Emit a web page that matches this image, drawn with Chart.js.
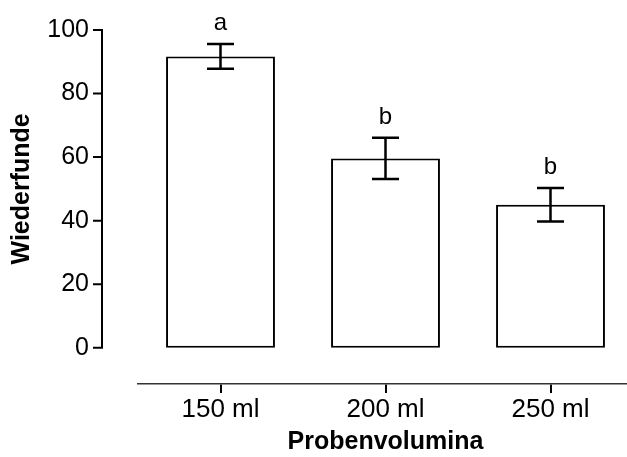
<!DOCTYPE html>
<html>
<head>
<meta charset="utf-8">
<script src="https://cdn.jsdelivr.net/npm/chart.js@4"></script>
<style>
  html, body { margin: 0; padding: 0; background: #fff; }
  #frame { width: 627px; height: 457px; overflow: hidden; position: relative; }
  #box { width: 640px; height: 457px; position: absolute; left: 0; top: 0; }
</style>
</head>
<body>
<div id="frame"><div id="box"><canvas id="chart"></canvas></div></div>
<script>
const categories = ['150 ml', '200 ml', '250 ml'];
const means = [91.7, 59.6, 45.0];
const errors = [3.9, 6.5, 5.3];
const letters = ['a', 'b', 'b'];
const yTicks = [0, 20, 40, 60, 80, 100];

const FONT = "'Liberation Sans', Arial, sans-serif";

// error bars, letters and the offset y axis
const extras = {
  id: 'extras',
  afterDatasetsDraw(chart) {
    const ctx = chart.ctx;
    const y = chart.scales.y;
    const meta = chart.getDatasetMeta(0);
    ctx.save();
    ctx.strokeStyle = '#000';
    ctx.fillStyle = '#000';
    ctx.lineWidth = 2.5;
    meta.data.forEach((bar, i) => {
      const top = y.getPixelForValue(means[i] + errors[i]);
      const bot = y.getPixelForValue(means[i] - errors[i]);
      ctx.beginPath();
      ctx.moveTo(bar.x, top); ctx.lineTo(bar.x, bot);
      ctx.moveTo(bar.x - 13.5, top); ctx.lineTo(bar.x + 13.5, top);
      ctx.moveTo(bar.x - 13.5, bot); ctx.lineTo(bar.x + 13.5, bot);
      ctx.stroke();
      ctx.font = '24px ' + FONT;
      ctx.textAlign = 'center';
      ctx.textBaseline = 'alphabetic';
      ctx.fillText(letters[i], bar.x, top - 14);
    });

    // y axis drawn offset to the left of the plot
    ctx.lineWidth = 2;
    const ax = chart.chartArea.left - 36;
    const y0 = y.getPixelForValue(yTicks[0]);
    const y1 = y.getPixelForValue(yTicks[yTicks.length - 1]);
    ctx.beginPath();
    ctx.moveTo(ax, y0 + 1); ctx.lineTo(ax, y1 - 1);
    yTicks.forEach(v => {
      const p = y.getPixelForValue(v);
      ctx.moveTo(ax + 1, p); ctx.lineTo(ax - 9, p);
    });
    ctx.stroke();

    ctx.font = 'bold 25px ' + FONT;
    ctx.textAlign = 'center';
    ctx.textBaseline = 'middle';
    ctx.translate(22, (y0 + y1) / 2);
    ctx.rotate(-Math.PI / 2);
    ctx.fillText('Wiederfunde', 0, 0);
    ctx.restore();
  }
};

new Chart(document.getElementById('chart'), {
  type: 'bar',
  data: {
    labels: categories,
    datasets: [{
      data: means,
      backgroundColor: '#fff',
      borderColor: '#000',
      borderWidth: 2,
      borderSkipped: false,
      categoryPercentage: 1,
      barPercentage: 0.66
    }]
  },
  options: {
    responsive: true,
    maintainAspectRatio: false,
    animation: false,
    devicePixelRatio: 1,
    layout: { padding: { top: 30, right: 7, bottom: 0, left: 0 } },
    plugins: { legend: { display: false }, tooltip: { enabled: false } },
    scales: {
      x: {
        grid: { display: true, drawOnChartArea: false, offset: false, tickLength: 9, color: '#000', lineWidth: 2 },
        border: { display: true, color: '#333', width: 1.5, dash: [1, 1] },
        ticks: { color: '#000', padding: 1, font: { family: FONT, size: 26 } },
        title: { display: true, text: 'Probenvolumina', color: '#000', padding: { top: 0, bottom: 0 },
                 font: { family: FONT, size: 25, weight: 'bold' } },
        afterFit: s => { s.height = 73; }
      },
      y: {
        min: -11.4,
        max: 100,
        grid: { display: false, drawTicks: false },
        border: { display: false },
        ticks: { stepSize: 20, color: '#000', padding: 49, font: { family: FONT, size: 25 } },
        afterBuildTicks: s => { s.ticks = s.ticks.filter(t => yTicks.includes(t.value)); },
        afterFit: s => { s.width = 138; s.paddingTop = 0; s.paddingBottom = 0; }
      }
    }
  },
  plugins: [extras]
});
</script>
</body>
</html>
